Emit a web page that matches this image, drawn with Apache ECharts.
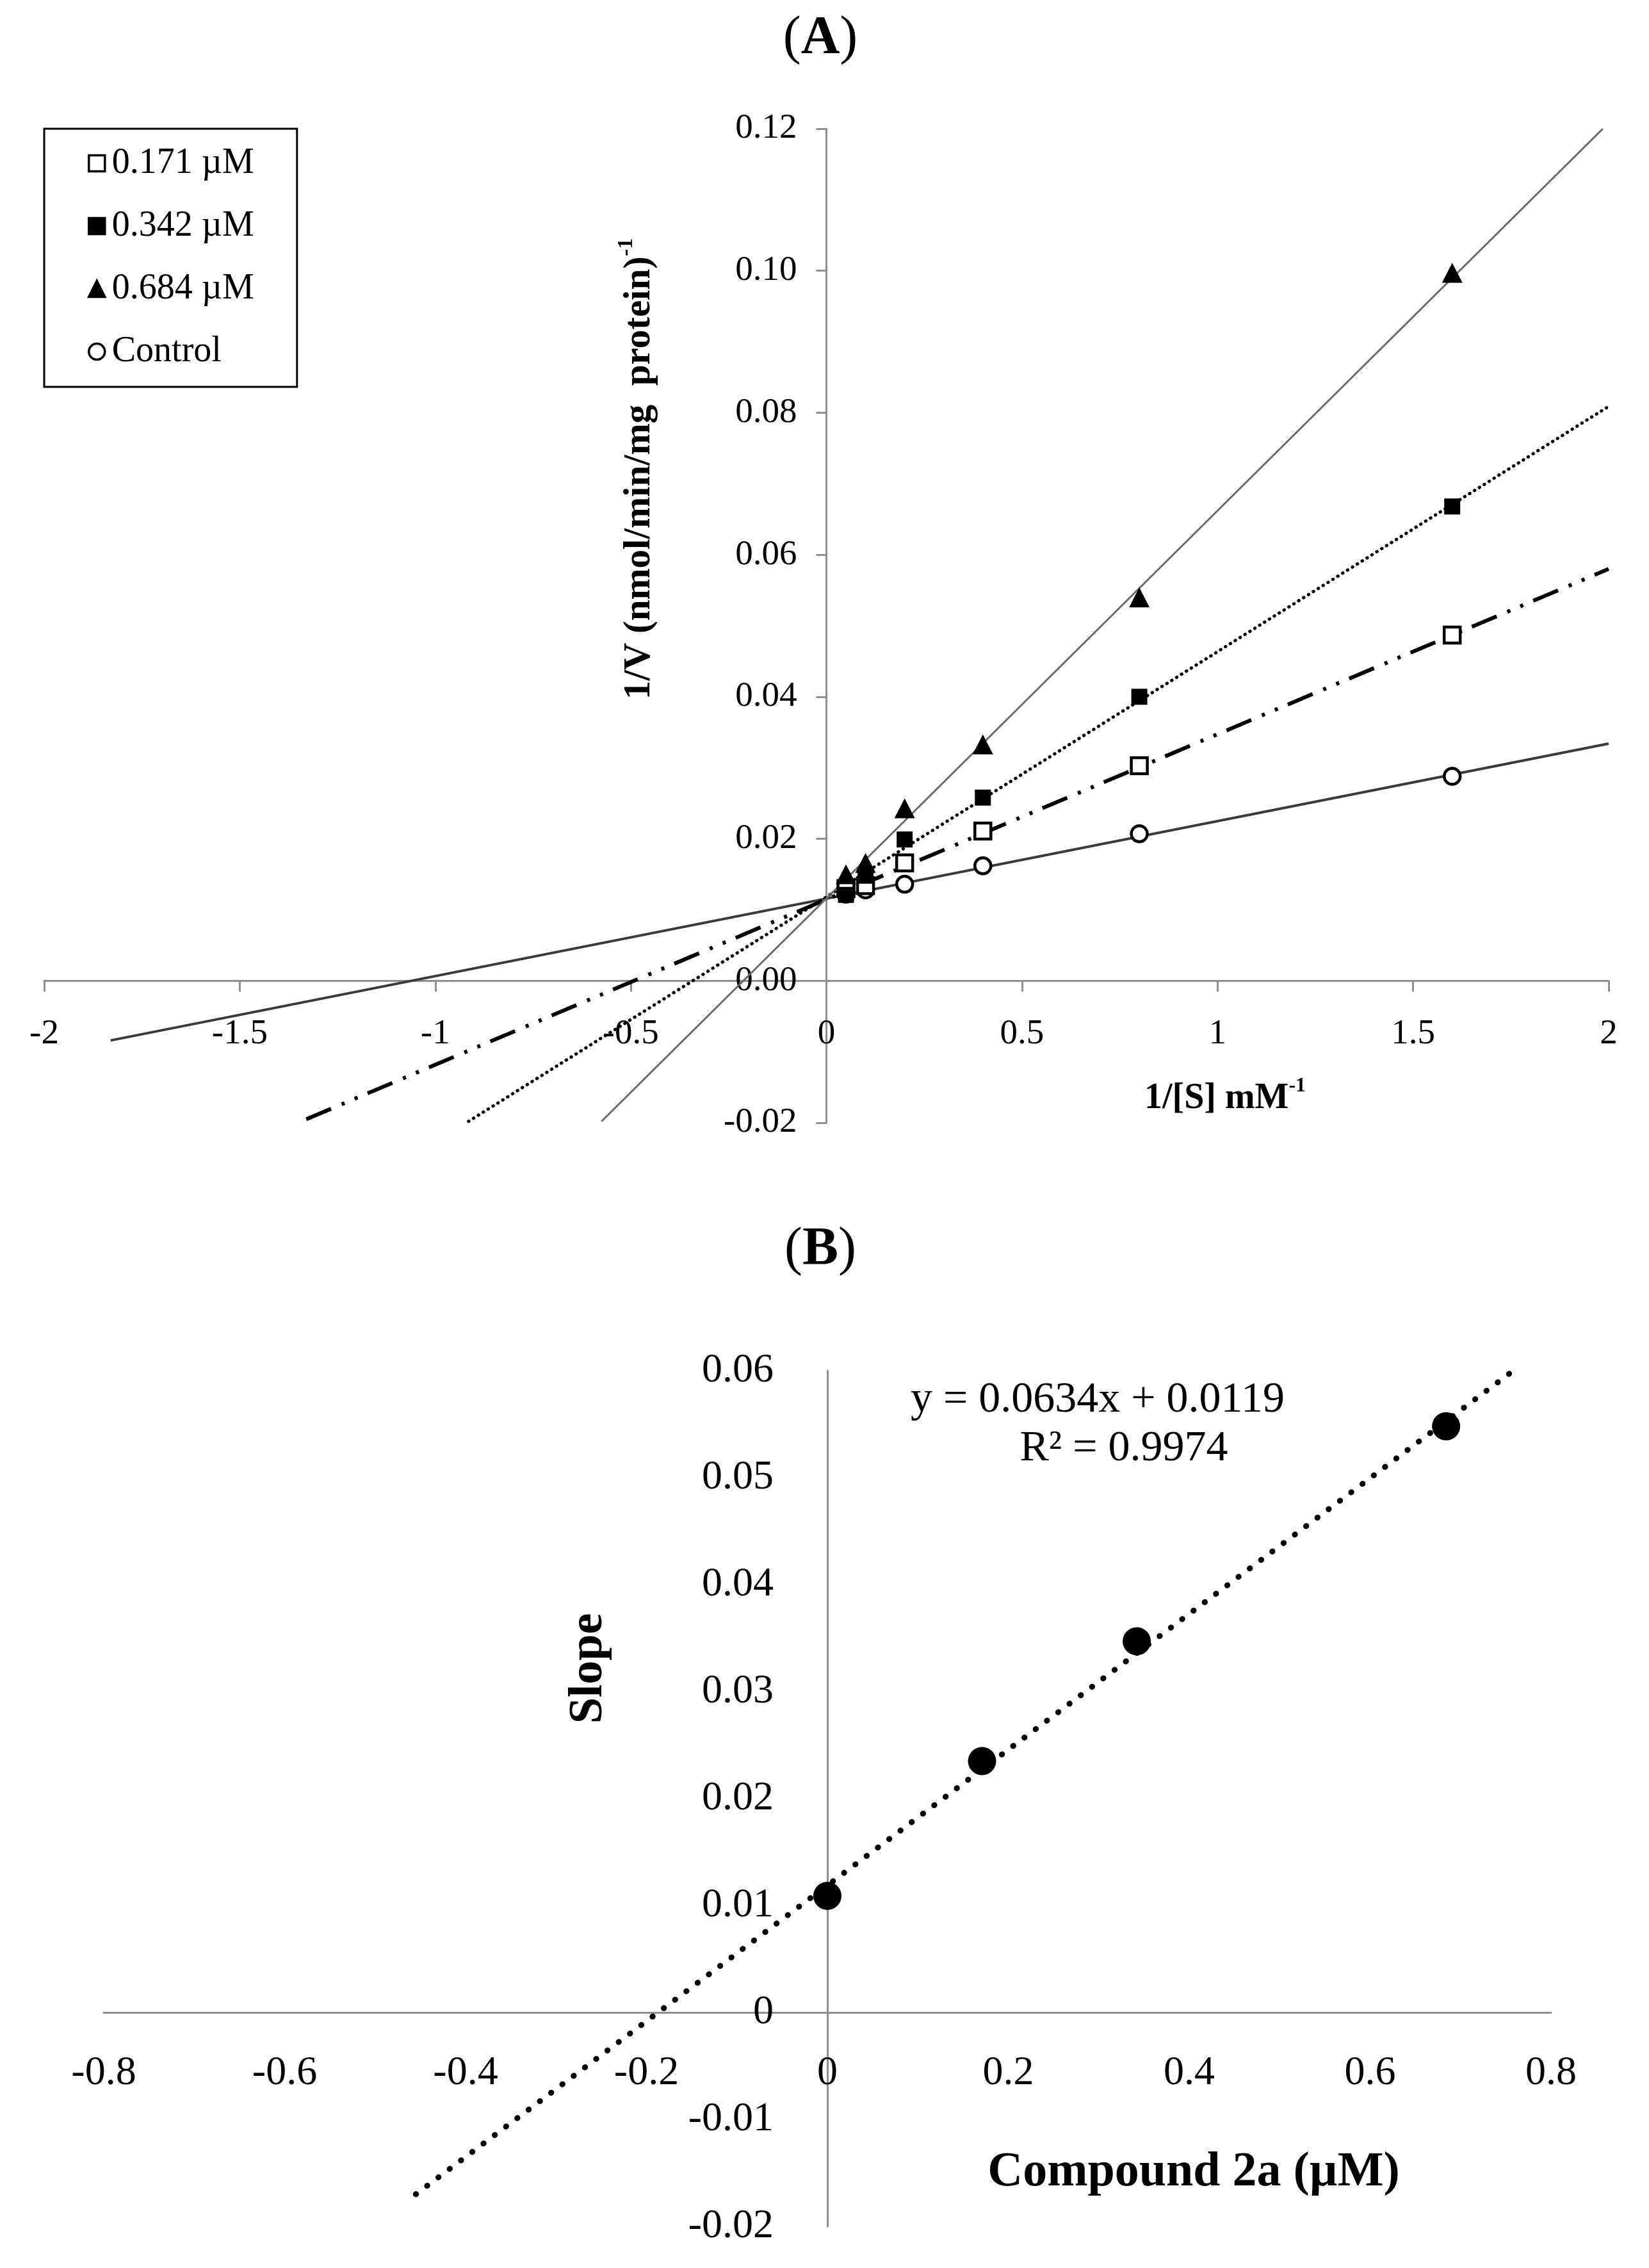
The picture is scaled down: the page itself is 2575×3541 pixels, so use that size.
<!DOCTYPE html>
<html>
<head>
<meta charset="utf-8">
<script src="https://cdn.jsdelivr.net/npm/echarts@6/dist/echarts.min.js"></script>
<style>
  html, body { margin: 0; padding: 0; background: #fff; }
  #chart { width: 2575px; height: 3541px; }
</style>
</head>
<body>
<div id="chart"></div>
<script>
// ---- panel A : Lineweaver-Burk ----
var seriesNames = ['0.171 µM', '0.342 µM', '0.684 µM', 'Control'];
var substrateInv = [0.05, 0.1, 0.2, 0.4, 0.8, 1.6];          // 1/[S] mM-1
var rate171 = [0.0130, 0.0134, 0.0166, 0.0211, 0.0303, 0.0487];
var rate342 = [0.0121, 0.0148, 0.0199, 0.0258, 0.0400, 0.0668];
var rate684 = [0.0150, 0.0166, 0.0243, 0.0333, 0.0540, 0.0997];
var rateControl = [0.0122, 0.0128, 0.0136, 0.0162, 0.0207, 0.0288];

// trend line ends [x, y]
var trend171 = [[-1.33, -0.0195], [2, 0.0580]];
var trend342 = [[-0.915, -0.0198], [2, 0.0809]];
var trend684 = [[-0.575, -0.0198], [1.985, 0.12]];
var trendControl = [[-1.83, -0.0084], [2, 0.0334]];

var axisA_x = [-2, 2, 0.5];     // min, max, interval
var axisA_y = [-0.02, 0.12, 0.02];

// ---- panel B : secondary plot ----
var inhibitorConc = [0, 0.171, 0.342, 0.684];               // µM
var slopeValues = [0.0109, 0.0235, 0.0347, 0.0548];
var slopeTrend = [[-0.455, -0.0170], [0.763, 0.0603]];
var axisB_x = [-0.8, 0.8, 0.2];
var axisB_y = [-0.02, 0.06, 0.01];

var FONT = 'Liberation Serif';
var AXIS_GRAY = '#8f8f8f';

var gridA = {left: 69, top: 201, width: 2443, height: 1552};
var gridB = {left: 162, top: 2140, width: 2260, height: 1336};

function pairs(xs, ys) {
    var out = [];
    for (var i = 0; i < xs.length; i++) out.push([xs[i], ys[i]]);
    return out;
}

// where zero sits inside an axis, as a share of its length from min
function zeroShare(range) {
    return (0 - range[0]) / (range[1] - range[0]);
}

// axes cross at zero: shift each axis from the grid edge to the zero line
function valueAxis(grid, range, offset, fontSize, margin, tickLen, fmt) {
    return {
        type: 'value', gridIndex: grid,
        min: range[0], max: range[1], interval: range[2],
        offset: offset,
        splitLine: {show: false},
        axisLine: {show: true, onZero: false, lineStyle: {color: AXIS_GRAY, width: 3}},
        axisTick: {show: tickLen > 0, length: tickLen, lineStyle: {color: AXIS_GRAY, width: 3}},
        axisLabel: {
            color: '#000', fontFamily: FONT, fontSize: fontSize, margin: margin,
            formatter: fmt
        }
    };
}

function trendLine(name, data, grid, style) {
    return {
        name: name, type: 'line', xAxisIndex: grid, yAxisIndex: grid,
        data: data, symbol: 'none', z: 2, silent: true,
        lineStyle: style
    };
}

function markers(name, data, symbol, size, fill, border) {
    return {
        name: name, type: 'scatter', xAxisIndex: 0, yAxisIndex: 0,
        data: data, symbol: symbol, symbolSize: size, z: 3,
        itemStyle: {color: fill, borderColor: '#000', borderWidth: border, opacity: 1}
    };
}

function label(x, y, text, size, rot, rich) {
    return {
        type: 'text', x: x, y: y, rotation: rot || 0,
        style: {
            text: text, fontFamily: FONT, fontSize: size, fontWeight: 'bold',
            fill: '#000', align: 'center', verticalAlign: 'middle', rich: rich
        }
    };
}

var supRich = function (size, supSize) {
    return {
        t: {fontFamily: FONT, fontSize: size, fontWeight: 'bold', lineHeight: size + 8, verticalAlign: 'bottom'},
        s: {fontFamily: FONT, fontSize: supSize, fontWeight: 'bold', lineHeight: size + 8, verticalAlign: 'top'}
    };
};
var parenRich = {n: {fontFamily: FONT, fontSize: 84, fontWeight: 'normal'}};

var chart = echarts.init(document.getElementById('chart'));

chart.setOption({
    backgroundColor: '#fff',
    animation: false,
    grid: [
        Object.assign({outerBoundsMode: 'none'}, gridA),
        Object.assign({outerBoundsMode: 'none'}, gridB)
    ],
    xAxis: [
        valueAxis(0, axisA_x, -gridA.height * zeroShare(axisA_y), 55, 56, 17),
        valueAxis(1, axisB_x, -gridB.height * zeroShare(axisB_y), 64, 63, 0)
    ],
    yAxis: [
        valueAxis(0, axisA_y, -gridA.width * zeroShare(axisA_x), 55, 46, 16,
            function (v) { return v.toFixed(2); }),
        valueAxis(1, axisB_y, -gridB.width * zeroShare(axisB_x), 64, 84, 0)
    ],
    legend: {
        orient: 'vertical', left: 69, top: 201,
        data: seriesNames,
        borderColor: '#000', borderWidth: 3,
        padding: [26, 67, 27, 68],
        itemGap: 42, itemWidth: 25, itemHeight: 25,
        itemStyle: {borderWidth: 3.5},
        textStyle: {fontFamily: FONT, fontSize: 56, color: '#000', padding: [0, 0, 0, 6]},
        selectedMode: false
    },
    series: [
        trendLine('fit control', trendControl, 0, {color: '#3a3a3a', width: 4}),
        trendLine('fit 0.171', trend171, 0, {color: '#000', width: 6, type: [42, 18, 5, 17, 5, 17], cap: 'butt'}),
        trendLine('fit 0.342', trend342, 0, {color: '#000', width: 5, type: [0.5, 8.5], cap: 'round'}),
        trendLine('fit 0.684', trend684, 0, {color: '#6a6a6a', width: 3}),
        markers('Control', pairs(substrateInv, rateControl), 'circle', 25, '#fff', 4.5),
        markers('0.171 µM', pairs(substrateInv, rate171), 'rect', 25, '#fff', 4.5),
        markers('0.342 µM', pairs(substrateInv, rate342), 'rect', 25, '#000', 0),
        markers('0.684 µM', pairs(substrateInv, rate684), 'triangle', [32, 31], '#000', 0),

        trendLine('fit slope', slopeTrend, 1, {color: '#000', width: 9, type: [0.5, 21.5], cap: 'round'}),
        {
            name: 'Slope', type: 'scatter', xAxisIndex: 1, yAxisIndex: 1,
            data: pairs(inhibitorConc, slopeValues), symbol: 'circle', symbolSize: 44, z: 3,
            itemStyle: {color: '#000', opacity: 1}
        }
    ],
    graphic: [
        label(1281, 61, '{n|(}A{n|)}', 84, 0, parenRich),
        label(1281, 1952, '{n|(}B{n|)}', 84, 0, parenRich),
        label(995, 732, '{t|1/V (nmol/min/mg  protein)}{s|-1}', 59, Math.PI / 2, supRich(59, 34)),
        label(1913, 1712, '{t|1/[S] mM}{s|-1}', 56, 0, supRich(56, 32)),
        label(920, 2605, 'Slope', 74, Math.PI / 2),
        label(1864, 3392, 'Compound 2a (µM)', 76, 0),
        {
            type: 'text', x: 1714, y: 2186,
            style: {text: 'y = 0.0634x + 0.0119', fontFamily: FONT, fontSize: 68,
                fill: '#000', align: 'center', verticalAlign: 'middle'}
        },
        {
            type: 'text', x: 1755, y: 2262,
            style: {text: 'R² = 0.9974', fontFamily: FONT, fontSize: 68,
                fill: '#000', align: 'center', verticalAlign: 'middle'}
        }
    ]
});
</script>
</body>
</html>
